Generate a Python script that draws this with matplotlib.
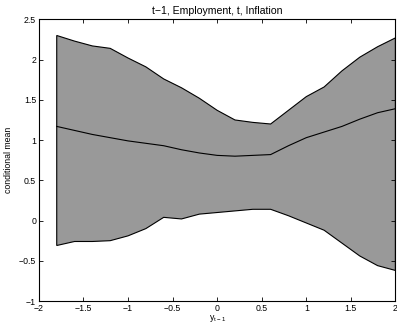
import matplotlib
matplotlib.use("Agg")
import matplotlib.pyplot as plt
import numpy as np

plt.rcParams.update({"font.family": ["Liberation Sans", "DejaVu Sans"],
                     "font.size": 6.3})

# grid of lagged values and the conditional-mean band
x = [-1.8, -1.6, -1.4, -1.2, -1.0, -0.8, -0.6, -0.4, -0.2, 0.0,
     0.2, 0.4, 0.6, 0.8, 1.0, 1.2, 1.4, 1.6, 1.8, 2.0]
upper = [2.30, 2.23, 2.17, 2.14, 2.02, 1.91, 1.76, 1.65, 1.52, 1.37,
         1.25, 1.22, 1.20, 1.37, 1.54, 1.66, 1.86, 2.03, 2.16, 2.27]
mean = [1.17, 1.12, 1.07, 1.03, 0.99, 0.96, 0.93, 0.88, 0.84, 0.81,
        0.80, 0.81, 0.82, 0.93, 1.03, 1.10, 1.17, 1.26, 1.34, 1.39]
lower = [-0.31, -0.26, -0.26, -0.25, -0.19, -0.10, 0.04, 0.02, 0.08, 0.10,
         0.12, 0.14, 0.14, 0.06, -0.03, -0.12, -0.28, -0.44, -0.56, -0.62]

xticks = [-2, -1.5, -1, -0.5, 0, 0.5, 1, 1.5, 2]
yticks = [-1, -0.5, 0, 0.5, 1, 1.5, 2, 2.5]

fig = plt.figure(figsize=(3.97, 3.23), dpi=100)
ax = fig.add_axes([0.098, 0.068, 0.898, 0.872])

# band polygon: upper edge then lower edge reversed
px = np.concatenate([x, x[::-1]])
py = np.concatenate([upper, lower[::-1]])
ax.fill(px, py, facecolor="#999999", edgecolor="black", lw=0.8)
ax.plot(x, mean, color="black", lw=0.8)

ax.set_xlim(-2, 2)
ax.set_ylim(-1, 2.5)
ax.set_xticks(xticks)
ax.set_yticks(yticks)
ax.set_xticklabels([f"{t:g}".replace("-", "\u2212") for t in xticks])
ax.set_yticklabels([f"{t:g}".replace("-", "\u2212") for t in yticks])
ax.tick_params(direction="in", top=True, right=True, length=3, width=0.6, pad=2)
for s in ax.spines.values():
    s.set_linewidth(0.8)

ax.set_xlabel("$\\mathregular{y_{t-1}}$", labelpad=0)
ax.set_ylabel("conditional mean", labelpad=4)
ax.set_title("t\u22121, Employment, t, Inflation", pad=4)

fig.savefig("out.png", dpi=100)
